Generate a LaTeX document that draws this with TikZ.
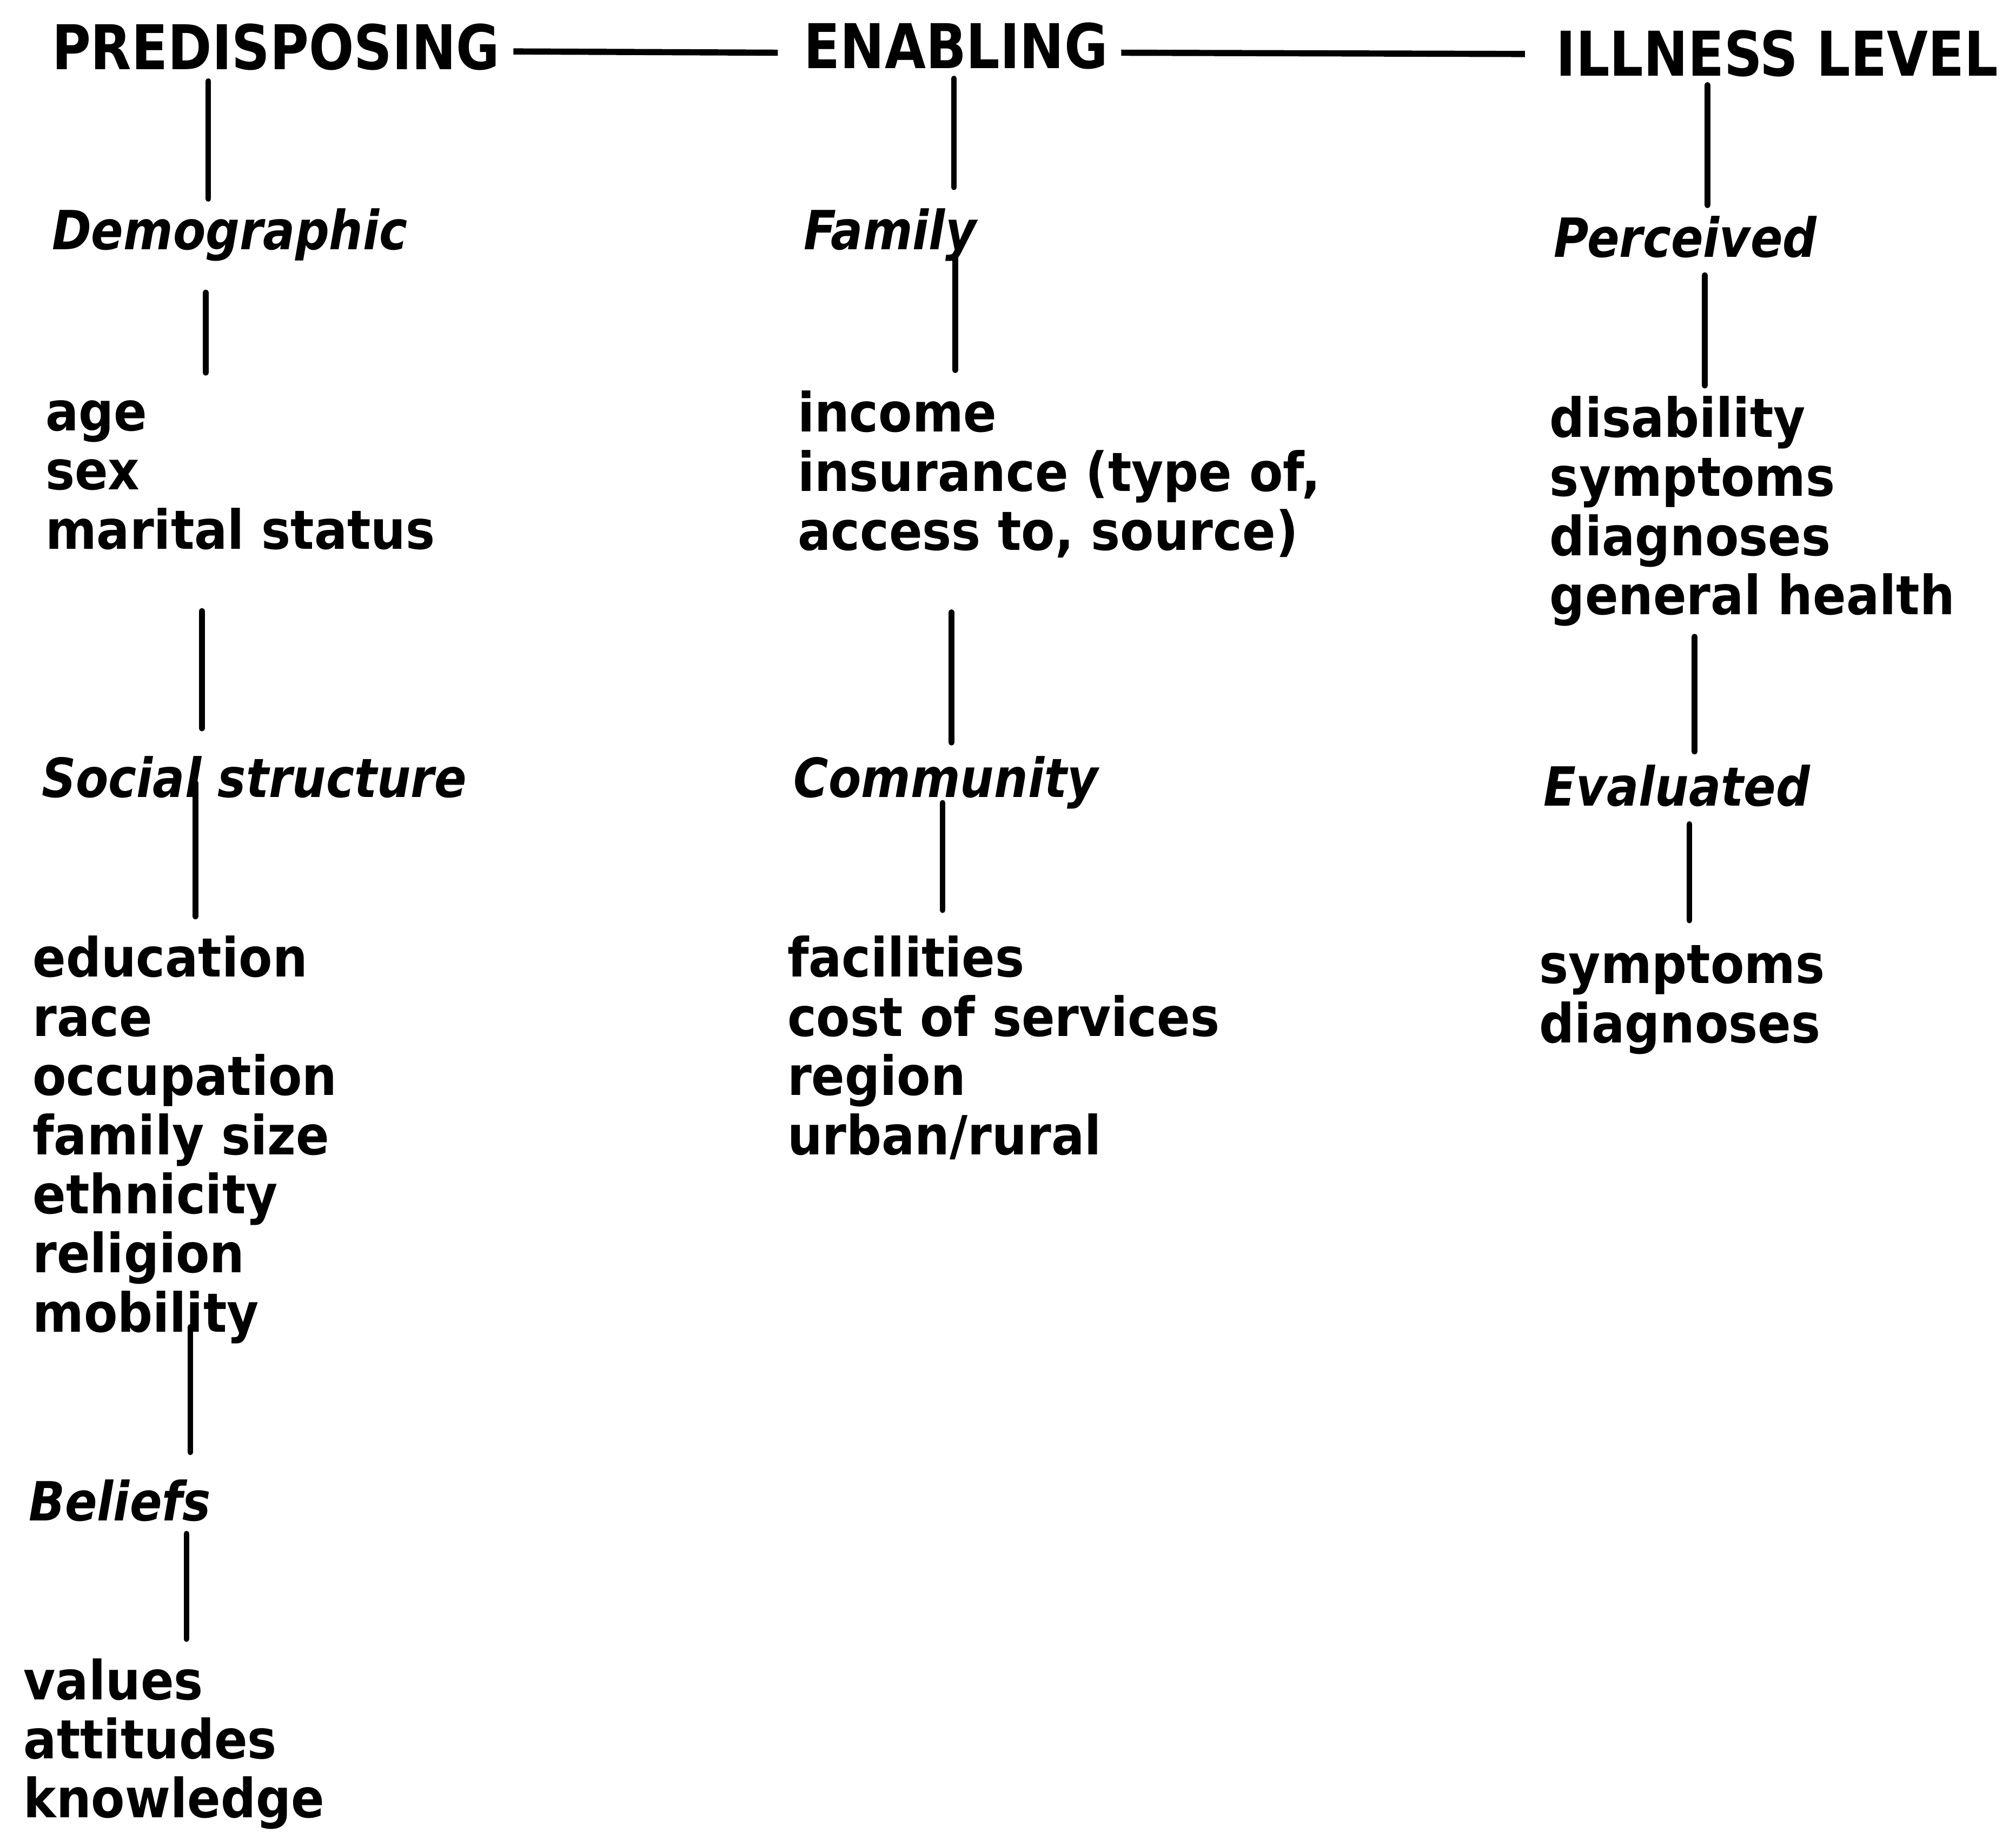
\documentclass[tikz,border=0pt]{standalone}
\usepackage{fontspec}
\setmainfont{DejaVu Sans}
\newfontfamily\headfont[FakeStretch=0.86]{DejaVu Sans}
\newfontfamily\catfont[FakeStretch=0.88]{DejaVu Sans}
\newfontfamily\itemfont[FakeStretch=0.91]{DejaVu Sans}

% vertical link from one block to the next, at a given column x
\newcommand{\drawlink}[5]{%
  \coordinate (lx) at (#3,0);
  \draw[link, shorten <=#4, shorten >=#5] (#1.south -| lx) -- (#2.north -| lx);}

\newcommand{\itemlist}[1]{\begin{tabular}[t]{@{}l@{}}#1\end{tabular}}

\begin{document}
\begin{tikzpicture}[x=0.5pt, y=-0.5pt,
  head/.style={font=\headfont\bfseries\fontsize{24}{28}\selectfont, inner sep=0pt, anchor=base west},
  cat/.style={font=\catfont\bfseries\itshape\fontsize{21}{24}\selectfont, inner sep=0pt, anchor=base west},
  items/.style={font=\itemfont\bfseries\fontsize{21}{23}\selectfont, inner sep=0pt, anchor=base west},
  link/.style={line width=2.2pt, line cap=round},
  rule/.style={line width=2.4pt}]

\useasboundingbox (0,0) rectangle (1568,1431);

% main headings
\node[head] (pre) at (40,54) {PREDISPOSING};
\node[head] (en)  at (625,53) {ENABLING};
\node[head] (ill) at (1210,59) {ILLNESS LEVEL};

\draw[rule] ([xshift=5pt,yshift=7pt]pre.base east) -- ([xshift=-10pt,yshift=6pt]en.base west);
\draw[rule] ([xshift=5pt,yshift=6pt]en.base east) -- ([xshift=-12pt,yshift=8.5pt]ill.base west);

% predisposing column
\node[cat] (demo) at (40,194) {Demographic};
\node[items] (l1) at (35,335) {\itemlist{age\\sex\\marital status}};
\node[cat] (soc) at (32,620) {Social structure};
\node[items] (l4) at (25,760) {\itemlist{education\\race\\occupation\\family size\\ethnicity\\religion\\mobility}};
\node[cat] (bel) at (22,1183) {Beliefs};
\node[items] (l7) at (18,1322) {\itemlist{values\\attitudes\\knowledge}};

% enabling column
\node[cat] (fam) at (625,194) {Family};
\node[items] (l2) at (620,336) {\itemlist{income\\insurance (type of,\\access to, source)}};
\node[cat] (comm) at (617,620) {Community};
\node[items] (l5) at (612,760) {\itemlist{facilities\\cost of services\\region\\urban/rural}};

% illness level column
\node[cat] (perc) at (1208,200) {Perceived};
\node[items] (l3) at (1205,340) {\itemlist{disability\\symptoms\\diagnoses\\general health}};
\node[cat] (evalu) at (1200,627) {Evaluated};
\node[items] (l6) at (1197,765) {\itemlist{symptoms\\diagnoses}};

% links
\drawlink{pre}{demo}{162}{4pt}{3.5pt}
\drawlink{en}{fam}{742}{3.5pt}{8pt}
\drawlink{ill}{perc}{1328}{3pt}{4pt}
\drawlink{demo}{l1}{160}{12pt}{6.2pt}
\drawlink{fam}{l2}{743}{-2pt}{7.7pt}
\drawlink{perc}{l3}{1326}{6.5pt}{3.7pt}
\drawlink{l1}{soc}{157}{17pt}{10.5pt}
\drawlink{l2}{comm}{740}{17pt}{5pt}
\drawlink{l3}{evalu}{1318}{1.5pt}{5pt}
\drawlink{soc}{l4}{152}{-6pt}{7.2pt}
\drawlink{comm}{l5}{733}{-2.5pt}{9.7pt}
\drawlink{evalu}{l6}{1314}{6.5pt}{8.2pt}
\drawlink{l4}{bel}{148}{-9pt}{10.5pt}
\drawlink{bel}{l7}{145}{4.5pt}{7.2pt}
\end{tikzpicture}
\end{document}
